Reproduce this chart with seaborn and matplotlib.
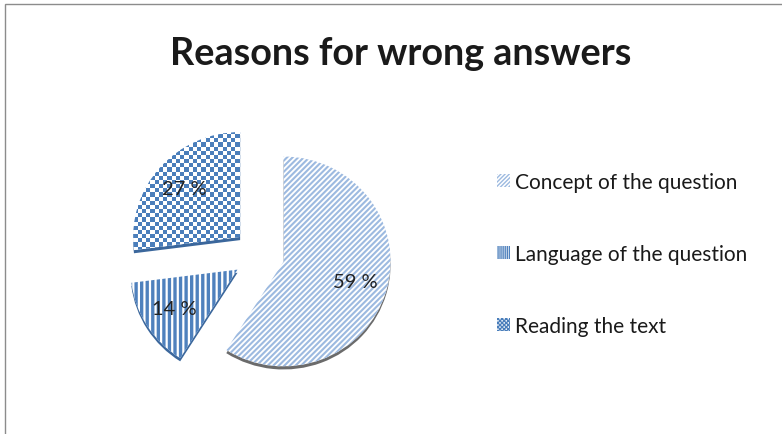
import numpy as np
import matplotlib
matplotlib.use("Agg")
import matplotlib.pyplot as plt
from matplotlib.patches import Rectangle, Patch
import seaborn as sns

# data
reasons = ["Concept of the question", "Language of the question", "Reading the text"]
shares = [59, 14, 27]

sns.set_theme(style="white")
plt.rcParams["font.family"] = ["Lato", "DejaVu Sans"]

stripe_light = "#9dbae0"
stripe_dark = "#4f81bd"
checker_blue = "#4a7ebb"

fig = plt.figure(figsize=(7.82, 4.35), dpi=100)
fig.patch.set_facecolor("white")

# chart border (only top and left edge are inside the picture)
fig.patches.append(Rectangle((5 / 782, -0.2), 1.2, 1.2 - 5 / 435,
                             transform=fig.transFigure, fill=False,
                             edgecolor="#8c8c8c", linewidth=1.0))

fig.text(0.512, 1 - 54 / 435, "Reasons for wrong answers", ha="center", va="center",
         fontsize=27.2, fontweight="bold", color="#1a1a1a")

# pie axes (centre ~ (261, 256) px, radius ~107 x 104 px)
ax = fig.add_axes([(261 - 153) / 782, 1 - 406 / 435, 306 / 782, 300 / 435])
lim = 1.43

explode = [0.22, 0.26, 0.26]

# depth under the slices (3-D look)
ax.pie(shares, startangle=90, counterclock=False, explode=explode,
       center=(0, -0.03), colors=["#6b6b6b", "#3b679c", "#3b679c"],
       wedgeprops=dict(linewidth=0))

wedges, texts, autotexts = ax.pie(
    shares, startangle=90, counterclock=False, explode=explode,
    colors=["white", "white", "white"], autopct=lambda p: f"{p:.0f} %",
    pctdistance=0.7, textprops=dict(fontsize=14.5, color="#222222"),
    wedgeprops=dict(linewidth=0))

hatches = ["//////", "|||", ""]
edges = [stripe_light, stripe_dark, "white"]
hlw = [1.5, 2.4, 1.0]
for w, h, e, lw in zip(wedges, hatches, edges, hlw):
    w.set_hatch(h)
    w.set_edgecolor(e)
    w.set_linewidth(0)
    if hasattr(w, "set_hatch_linewidth"):
        w.set_hatch_linewidth(lw)

# checkerboard texture for the third slice
n = 72
yy, xx = np.indices((n, n))
checker = ((yy + xx) % 2).astype(float)
cmap = matplotlib.colors.ListedColormap(["white", checker_blue])
im = ax.imshow(checker, extent=(-lim, lim, -lim, lim), cmap=cmap, aspect="auto",
               interpolation="nearest", zorder=wedges[2].get_zorder() + 0.1)
im.set_clip_path(wedges[2])
for t in autotexts:
    t.set_zorder(5)

ax.set_xlim(-lim, lim)
ax.set_ylim(-lim, lim)
ax.set_aspect("auto")
ax.axis("off")

handles = [Patch(facecolor="white", edgecolor=stripe_light, hatch="////////", linewidth=0),
           Patch(facecolor="white", edgecolor=stripe_dark, hatch="||||||||", linewidth=0),
           Patch(facecolor="white", edgecolor=checker_blue, hatch="xxxxxxxx", linewidth=0)]
for hd, lw in zip(handles, [1.5, 2.0, 2.0]):
    if hasattr(hd, "set_hatch_linewidth"):
        hd.set_hatch_linewidth(lw)
fig.legend(handles, reasons, loc="center left",
           bbox_to_anchor=(497 / 782, 1 - 255 / 435), frameon=False,
           borderaxespad=0, borderpad=0,
           fontsize=15, handlelength=0.6, handleheight=0.6, handletextpad=0.25,
           labelspacing=2.5, labelcolor="#1a1a1a")

fig.savefig("out.png", dpi=100, facecolor="white")
